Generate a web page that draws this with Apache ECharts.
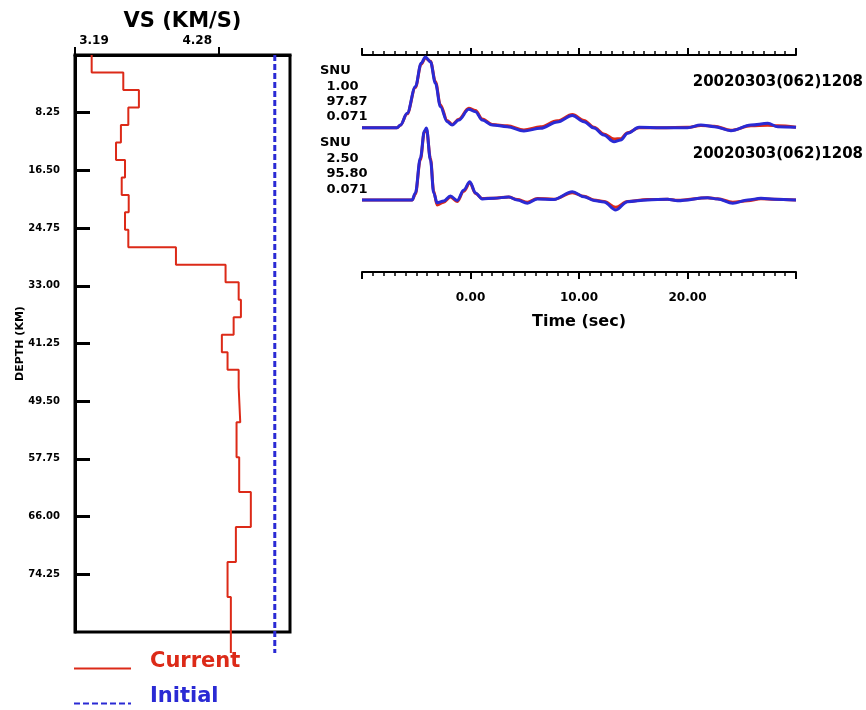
<!DOCTYPE html>
<html><head><meta charset="utf-8">
<script src="https://cdn.jsdelivr.net/npm/echarts@6.0.0/dist/echarts.min.js"></script>
<style>html,body{margin:0;padding:0;background:#fff}#c{width:866px;height:710px}</style>
</head><body><div id="c"></div>
<script>
// ---- velocity model (layer tops in km, Vs in km/s) ----
const layerTop = [0,2.5,5,7.5,10,12.5,15,17.5,20,22.5,25,27.5,30,32.5,35,37.5,40,42.5,45,47.5,52.5,57.5,62.5,67.5,72.5,77.5];
const layerVs  = [3.316,3.555,3.673,3.593,3.537,3.500,3.568,3.543,3.596,3.568,3.593,3.953,4.328,4.427,4.444,4.389,4.300,4.343,4.427,4.439,4.411,4.431,4.519,4.406,4.343,4.368];
const modelBottom = 85.5;
const initialVs = 4.70;
const vsTickValues = [3.19, 4.28];
const vsRange = [3.19, 4.815];
const depthRange = [0, 82.5];
const depthStep = 8.25;

// ---- receiver functions ----
const time1 = [-10,-6.77,-6.46,-5.84,-5.08,-4.55,-4.16,-3.69,-3.23,-2.77,-2.15,-1.69,-1.08,-0.16,0.46,1.08,2.0,3.39,4.92,6.46,8.0,9.39,10.46,11.38,12.28,13.23,13.85,14.47,15.54,17.54,20.0,21.23,22.47,24.0,25.85,27.4,28.32,30];
const obs1  = [0,0,0.035,0.19,0.55,0.87,0.955,0.91,0.63,0.31,0.1,0.045,0.115,0.265,0.235,0.12,0.045,0.025,-0.03,0.012,0.095,0.18,0.1,0.005,-0.085,-0.155,-0.15,-0.07,0.0,0,0.005,0.03,0.02,-0.035,0.025,0.035,0.025,0.005];
const pred1 = [0,0,0.037,0.197,0.562,0.882,0.97,0.904,0.608,0.288,0.082,0.037,0.105,0.252,0.219,0.105,0.037,0.014,-0.045,-0.008,0.078,0.167,0.082,-0.004,-0.1,-0.192,-0.168,-0.077,0.005,0,0,0.037,0.014,-0.041,0.037,0.06,0.014,0.005];
const time2 = [-10,-5.38,-5.08,-4.62,-4.25,-4.06,-3.69,-3.39,-3.08,-2.47,-1.85,-1.23,-0.62,-0.06,0.46,1.08,2.15,3.53,4.31,5.24,6.16,7.69,9.39,10.46,11.38,12.31,13.39,14.47,16.31,18.16,19.09,21.86,22.78,24.17,25.55,26.77,28.0,30];
const obs2  = [0,0,0.08,0.55,0.93,0.97,0.57,0.12,-0.07,-0.03,0.04,-0.02,0.12,0.235,0.09,0.02,0.025,0.04,0.005,-0.03,0.02,0.01,0.1,0.05,0.0,-0.02,-0.1,-0.02,0.005,0.01,-0.005,0.03,0.015,-0.03,-0.01,0.015,0.01,0];
const pred2 = [0,0,0.096,0.575,0.945,0.985,0.548,0.096,-0.037,-0.014,0.055,-0.007,0.137,0.251,0.096,0.014,0.023,0.041,0,-0.045,0.014,0.007,0.114,0.045,-0.007,-0.027,-0.137,-0.023,0,0.01,-0.01,0.03,0.014,-0.045,0,0.023,0.01,0];
const traceOffsets = [0, -0.99];
const stations = ['SNU','SNU'];
const gaussAlpha = ['1.00','2.50'];
const fitPercent = ['97.87','95.80'];
const rayParam = ['0.071','0.071'];
const eventIds = ['20020303(062)1208','20020303(062)1208'];
const timeRange = [-10, 30];
const timeStep = 10;

const RED = '#dc2a18', BLUE = '#2a2ad4';
const FF = '"DejaVu Sans", sans-serif';

// build step profile
const profile = [];
layerVs.forEach((v, i) => {
  const top = layerTop[i];
  const bot = i + 1 < layerTop.length ? layerTop[i + 1] : modelBottom;
  profile.push([v, top], [v, bot]);
});
const initial = [[initialVs, 0], [initialVs, modelBottom]];
const mk = (t, a, off) => t.map((x, i) => [x, a[i] + off]);

const chart = echarts.init(document.getElementById('c'), null, {renderer: 'canvas'});
const timeAxisBase = {
  type: 'value', gridIndex: 1, min: timeRange[0], max: timeRange[1], interval: timeStep,
  axisLine: {show: true, onZero: false, lineStyle: {color: '#000', width: 2}},
  axisTick: {show: true, inside: false, length: 7, lineStyle: {color: '#000', width: 2}},
  minorTick: {show: true, splitNumber: 10, length: 4, lineStyle: {color: '#000', width: 1.5}},
  splitLine: {show: false}, minorSplitLine: {show: false}
};
chart.setOption({
  backgroundColor: '#fff',
  animation: false,
  grid: [
    {left: 75, top: 55, width: 215, height: 577, show: true, borderColor: '#000', borderWidth: 3, backgroundColor: 'transparent', outerBoundsMode: 'none', containLabel: false},
    {left: 362, top: 55, width: 434, height: 217, show: false, outerBoundsMode: 'none', containLabel: false}
  ],
  xAxis: [
    {type: 'value', gridIndex: 0, position: 'top', min: vsRange[0], max: vsRange[1],
     axisLine: {show: true, onZero: false, lineStyle: {color: '#000', width: 3}},
     axisTick: {show: true, inside: false, length: 8, customValues: vsTickValues, lineStyle: {color: '#000', width: 2}},
     axisLabel: {show: true, customValues: vsTickValues, margin: 8, color: '#000', fontSize: 12, fontWeight: 'bold', fontFamily: FF,
       formatter: v => (Math.abs(v - vsTickValues[0]) < 1e-6 ? '{a|' : '{b|') + v.toFixed(2) + '}',
       rich: {a: {padding: [0,0,0,38], fontSize: 12, fontWeight: 'bold', fontFamily: FF, color: '#000'},
              b: {padding: [0,44,0,0], fontSize: 12, fontWeight: 'bold', fontFamily: FF, color: '#000'}}},
     splitLine: {show: false},
     name: 'VS (KM/S)', nameLocation: 'middle', nameGap: 23, nameMoveOverlap: false,
     nameTextStyle: {color: '#000', fontSize: 21, fontWeight: 'bold', fontFamily: FF}},
    Object.assign({}, timeAxisBase, {position: 'bottom',
      axisLabel: {show: true, margin: 20, color: '#000', fontSize: 12, fontWeight: 'bold', fontFamily: FF, showMinLabel: false, showMaxLabel: false, formatter: v => v.toFixed(2)},
      name: 'Time (sec)', nameLocation: 'middle', nameGap: 42, nameMoveOverlap: false,
      nameTextStyle: {color: '#000', fontSize: 16, fontWeight: 'bold', fontFamily: FF}}),
    Object.assign({}, timeAxisBase, {position: 'top', axisLabel: {show: false}})
  ],
  yAxis: [
    {type: 'value', gridIndex: 0, inverse: true, min: depthRange[0], max: depthRange[1], interval: depthStep,
     axisLine: {show: true, onZero: false, lineStyle: {color: '#000', width: 3}},
     axisTick: {show: true, inside: true, length: 15, lineStyle: {color: '#000', width: 3}},
     axisLabel: {show: true, margin: 15, color: '#000', fontSize: 10, fontWeight: 'bold', fontFamily: FF, showMinLabel: false, showMaxLabel: false, formatter: v => v.toFixed(2)},
     splitLine: {show: false},
     name: 'DEPTH (KM)', nameLocation: 'middle', nameGap: 49, nameRotate: 90, nameMoveOverlap: false,
     nameTextStyle: {color: '#000', fontSize: 11, fontWeight: 'bold', fontFamily: FF}},
    {type: 'value', gridIndex: 1, min: -1.977, max: 0.996, show: false, splitLine: {show: false}}
  ],
  legend: {
    show: true, orient: 'vertical', left: 73, top: 651, itemWidth: 57, itemHeight: 14, itemGap: 12,
    selectedMode: false, padding: 0,
    itemStyle: {opacity: 0},
    formatter: name => (name === 'Current' ? '{r|' : '{b|') + name + '}',
    textStyle: {fontSize: 21, fontWeight: 'bold', fontFamily: FF,
      rich: {r: {color: RED, fontSize: 21, fontWeight: 'bold', fontFamily: FF, padding: [0,0,14,14]},
             b: {color: BLUE, fontSize: 21, fontWeight: 'bold', fontFamily: FF, padding: [0,0,14,14]}}},
    data: ['Current', 'Initial']
  },
  series: [
    {name: 'Current', type: 'line', xAxisIndex: 0, yAxisIndex: 0, data: profile, symbol: 'none', clip: false,
     lineStyle: {color: RED, width: 2}, itemStyle: {color: RED}, z: 4},
    {name: 'Initial', type: 'line', xAxisIndex: 0, yAxisIndex: 0, data: initial, symbol: 'none', clip: false,
     lineStyle: {color: BLUE, width: 3, type: [6, 3]}, itemStyle: {color: BLUE}, z: 3},
    {name: 'obs1', type: 'line', xAxisIndex: 1, yAxisIndex: 1, data: mk(time1, obs1, traceOffsets[0]), symbol: 'none', smooth: 0.35, smoothMonotone: 'x', clip: false, lineStyle: {color: RED, width: 3}, z: 3},
    {name: 'pred1', type: 'line', xAxisIndex: 1, yAxisIndex: 1, data: mk(time1, pred1, traceOffsets[0]), symbol: 'none', smooth: 0.35, smoothMonotone: 'x', clip: false, lineStyle: {color: BLUE, width: 3}, z: 4},
    {name: 'obs2', type: 'line', xAxisIndex: 1, yAxisIndex: 1, data: mk(time2, obs2, traceOffsets[1]), symbol: 'none', smooth: 0.35, smoothMonotone: 'x', clip: false, lineStyle: {color: RED, width: 3}, z: 3},
    {name: 'pred2', type: 'line', xAxisIndex: 1, yAxisIndex: 1, data: mk(time2, pred2, traceOffsets[1]), symbol: 'none', smooth: 0.35, smoothMonotone: 'x', clip: false, lineStyle: {color: BLUE, width: 3}, z: 4}
  ]
});

// trace annotations placed via the chart's own coordinate conversion
const g = [];
traceOffsets.forEach((off, k) => {
  const a = chart.convertToPixel({gridIndex: 1}, [timeRange[0], off]);
  const b = chart.convertToPixel({gridIndex: 1}, [timeRange[1], off]);
  const lines = [[stations[k], -42, -57], [gaussAlpha[k], -35.5, -41.5], [fitPercent[k], -35.5, -26.3], [rayParam[k], -35.5, -10.6]];
  lines.forEach(([txt, dx, dy]) => g.push({type: 'text', x: a[0] + dx, y: a[1] + dy,
    style: {text: txt, fill: '#000', fontSize: 13, fontWeight: 'bold', fontFamily: FF, align: 'left', verticalAlign: 'middle'}}));
  g.push({type: 'text', x: b[0] + 67, y: b[1] - 45.5,
    style: {text: eventIds[k], fill: '#000', fontSize: 15, fontWeight: 'bold', fontFamily: FF, align: 'right', verticalAlign: 'middle'}});
});
chart.setOption({graphic: g});
</script></body></html>
